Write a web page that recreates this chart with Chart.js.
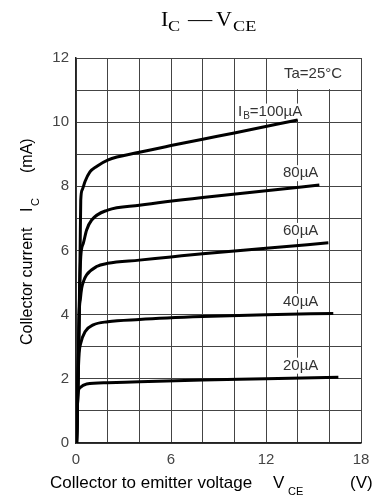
<!DOCTYPE html>
<html>
<head>
<meta charset="utf-8">
<script src="https://cdn.jsdelivr.net/npm/chart.js@4/dist/chart.umd.min.js"></script>
<style>
  body { margin: 0; background: #fff; }
  canvas { display: block; }
</style>
</head>
<body>
<canvas id="myChart" width="380" height="504"></canvas>
<script>
// I_C vs V_CE curves
const vce100 = [0.04, 0.13, 0.2, 0.26, 0.3, 0.4, 0.57, 0.88, 1.3, 2, 4, 6, 8, 10, 14.0];
const ic100  = [0, 2, 4, 6, 7.57, 7.9, 8.15, 8.45, 8.62, 8.82, 9.06, 9.27, 9.47, 9.66, 10.07];

const vce80 = [0.04, 0.13, 0.2, 0.3, 0.46, 0.67, 0.99, 2, 4, 8, 12, 15.37];
const ic80  = [0, 2, 4, 5.8, 6.22, 6.64, 6.95, 7.26, 7.41, 7.65, 7.86, 8.04];

const vce60 = [0.04, 0.13, 0.2, 0.28, 0.36, 0.5, 0.67, 1.3, 2, 4, 6, 8, 12, 15.94];
const ic60  = [0, 2, 4, 4.5, 4.83, 5.07, 5.24, 5.5, 5.6, 5.7, 5.8, 5.9, 6.07, 6.24];

const vce40 = [0.04, 0.13, 0.2, 0.3, 0.57, 1.09, 2, 4, 8, 12, 16.25];
const ic40  = [0, 2, 2.8, 3.11, 3.47, 3.68, 3.78, 3.85, 3.94, 4.0, 4.04];

const vce20 = [0.03, 0.12, 0.25, 0.67, 2, 4, 8, 12, 16.57];
const ic20  = [0, 1.5, 1.72, 1.84, 1.88, 1.91, 1.96, 2.0, 2.05];

// curve labels: text and where they sit (V, mA)
const curveLabels = ["IB=100µA", "80µA", "60µA", "40µA", "20µA"];
const labelV = [10.23, 13.07, 13.07, 13.07, 13.07];
const labelI = [10.33, 8.41, 6.61, 4.4, 2.41];

const xTicks = [0, 6, 12, 18];
const yTicks = [0, 2, 4, 6, 8, 10, 12];

const toPoints = (xs, ys) => xs.map((x, i) => ({ x: x, y: ys[i] }));

const curve = (xs, ys) => ({
  data: toPoints(xs, ys),
  borderColor: "#000",
  borderWidth: 3,
  pointRadius: 0,
  showLine: true,
  cubicInterpolationMode: "monotone",
  fill: false,
});

const font = "Liberation Sans, Arial, sans-serif";
const serif = "Liberation Serif, Times New Roman, serif";

// draw text stretched horizontally (the title subscripts are wide)
const wideText = (ctx, t, x, y, sx) => {
  ctx.save();
  ctx.translate(x, y);
  ctx.scale(sx, 1);
  ctx.fillText(t, 0, 0);
  ctx.restore();
};

const decorations = {
  id: "decorations",
  beforeDatasetsDraw(chart) {
    const { ctx, scales: { x, y } } = chart;
    ctx.save();
    // Ta box covers the top-right row
    ctx.fillStyle = "#fff";
    ctx.fillRect(x.getPixelForValue(12) + 1, y.getPixelForValue(12) + 1,
      x.getPixelForValue(18) - x.getPixelForValue(12) - 2,
      y.getPixelForValue(11) - y.getPixelForValue(12) - 2);
    ctx.fillStyle = "#333";
    ctx.font = "15px " + font;
    ctx.textBaseline = "middle";
    ctx.textAlign = "center";
    ctx.fillText("Ta=25°C", 313, y.getPixelForValue(11.5));

    // curve labels with white backing
    curveLabels.forEach((t, i) => {
      const px = x.getPixelForValue(labelV[i]);
      const py = y.getPixelForValue(labelI[i]);
      ctx.textAlign = "left";
      if (i === 0) {
        ctx.font = "15px " + font;
        const w1 = ctx.measureText("I").width;
        ctx.font = "10px " + font;
        const w2 = ctx.measureText("B").width;
        ctx.font = "15px " + font;
        const w3 = ctx.measureText("=100µA").width;
        ctx.fillStyle = "#fff";
        ctx.fillRect(px - 1, py - 8, w1 + w2 + w3 + 3, 16);
        ctx.fillStyle = "#333";
        ctx.fillText("I", px, py);
        ctx.font = "10px " + font;
        ctx.fillText("B", px + w1 + 1, py + 5);
        ctx.font = "15px " + font;
        ctx.fillText("=100µA", px + w1 + w2 + 1, py);
      } else {
        ctx.font = "15px " + font;
        const w = ctx.measureText(t).width;
        ctx.fillStyle = "#fff";
        ctx.fillRect(px - 1, py - 8, w + 2, 16);
        ctx.fillStyle = "#333";
        ctx.fillText(t, px, py);
      }
    });
    ctx.restore();
  },
  afterDraw(chart) {
    const { ctx } = chart;
    ctx.save();
    ctx.fillStyle = "#000";
    ctx.textBaseline = "alphabetic";
    ctx.textAlign = "left";

    // title I_C — V_CE
    ctx.font = "22px " + serif;
    ctx.fillText("I", 161, 26);
    wideText(ctx, "—", 188, 26, 1.1);
    ctx.fillText("V", 216, 26);
    ctx.font = "14px " + serif;
    wideText(ctx, "C", 168, 31, 1.3);
    wideText(ctx, "CE", 233, 31, 1.3);

    // x axis title
    ctx.font = "17px " + font;
    ctx.fillText("Collector to emitter voltage", 50, 488);
    ctx.fillText("V", 273, 488);
    ctx.fillText("(V)", 350, 488);
    ctx.font = "11px " + font;
    ctx.fillText("CE", 288, 495);

    // y axis title, rotated
    ctx.translate(32, 345);
    ctx.rotate(-Math.PI / 2);
    ctx.font = "16px " + font;
    ctx.fillText("Collector current", 0, 0);
    ctx.fillText("I", 133, 0);
    ctx.fillText("(mA)", 172, 0);
    ctx.font = "11px " + font;
    ctx.fillText("C", 139, 7);
    ctx.restore();
  },
};

new Chart(document.getElementById("myChart"), {
  type: "scatter",
  data: {
    datasets: [
      curve(vce100, ic100),
      curve(vce80, ic80),
      curve(vce60, ic60),
      curve(vce40, ic40),
      curve(vce20, ic20),
    ],
  },
  options: {
    responsive: false,
    animation: false,
    layout: { padding: { top: 58, right: 19, left: 0, bottom: 0 } },
    plugins: { legend: { display: false }, tooltip: { enabled: false } },
    scales: {
      x: {
        type: "linear",
        min: 0,
        max: 18,
        afterFit: (s) => { s.height = 61; },
        grid: { color: "#444", lineWidth: 1, drawTicks: false },
        border: { color: "#222", width: 1.5 },
        ticks: {
          stepSize: 2,
          autoSkip: false,
          maxRotation: 0,
          padding: 8,
          color: "#444",
          font: { family: font, size: 15 },
          callback: (v) => (xTicks.includes(v) ? v : ""),
        },
      },
      y: {
        min: 0,
        max: 12,
        afterFit: (s) => { s.width = 76; },
        grid: { color: "#444", lineWidth: 1, drawTicks: false },
        border: { color: "#222", width: 1.5 },
        ticks: {
          stepSize: 1,
          autoSkip: false,
          padding: 7,
          color: "#444",
          font: { family: font, size: 15 },
          callback: (v) => (yTicks.includes(v) ? v : ""),
        },
      },
    },
  },
  plugins: [decorations],
});
</script>
</body>
</html>
